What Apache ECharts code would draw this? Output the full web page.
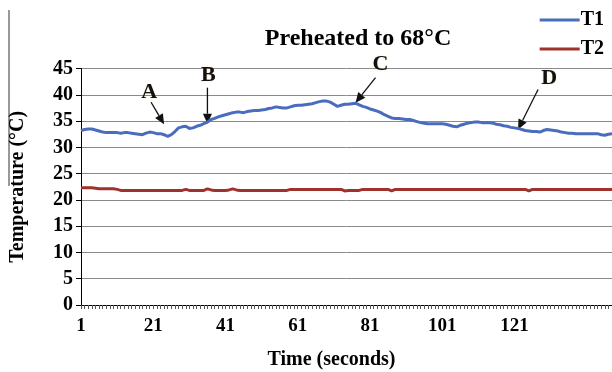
<!DOCTYPE html>
<html>
<head>
<meta charset="utf-8">
<script src="https://cdn.jsdelivr.net/npm/echarts@6/dist/echarts.min.js"></script>
<style>
  html, body { margin: 0; padding: 0; background: #fff; }
  #chart { width: 612px; height: 372px; }
</style>
</head>
<body>
<div id="chart"></div>
<script>
// time in seconds, 1..148
var times = [];
for (var i = 1; i <= 148; i++) times.push(String(i));

// T1
var t1 = [
  33.2, 33.4, 33.5, 33.5, 33.3, 33.1, 32.9, 32.8, 32.8, 32.8,
  32.8, 32.7, 32.8, 32.8, 32.7, 32.6, 32.5, 32.4, 32.7, 32.9,
  32.8, 32.6, 32.6, 32.4, 32.1, 32.4, 33.0, 33.7, 33.9, 34.0,
  33.6, 33.7, 34.0, 34.2, 34.5, 34.8, 35.3, 35.5, 35.8, 36.0,
  36.2, 36.4, 36.6, 36.7, 36.7, 36.6, 36.8, 36.9, 37.0, 37.0,
  37.1, 37.2, 37.4, 37.5, 37.7, 37.6, 37.5, 37.5, 37.7, 37.9,
  38.0, 38.0, 38.1, 38.2, 38.3, 38.5, 38.7, 38.8, 38.8, 38.6,
  38.2, 37.8, 38.0, 38.2, 38.2, 38.3, 38.4, 38.1, 37.8, 37.6,
  37.3, 37.1, 36.9, 36.6, 36.2, 35.9, 35.6, 35.5, 35.5, 35.4,
  35.3, 35.3, 35.1, 34.9, 34.7, 34.6, 34.5, 34.5, 34.5, 34.5,
  34.5, 34.4, 34.2, 34.0, 33.9, 34.2, 34.4, 34.6, 34.7, 34.8,
  34.8, 34.7, 34.7, 34.7, 34.6, 34.4, 34.3, 34.1, 34.0, 33.8,
  33.7, 33.6, 33.4, 33.2, 33.1, 33.0, 33.0, 32.9, 33.2, 33.4,
  33.3, 33.2, 33.1, 32.9, 32.8, 32.7, 32.7, 32.6, 32.6, 32.6,
  32.6, 32.6, 32.6, 32.6, 32.4, 32.3, 32.5, 32.6
];

// T2
var t2 = [
  22.3, 22.3, 22.3, 22.3, 22.2, 22.1, 22.1, 22.1, 22.1, 22.1,
  22.0, 21.8, 21.8, 21.8, 21.8, 21.8, 21.8, 21.8, 21.8, 21.8,
  21.8, 21.8, 21.8, 21.8, 21.8, 21.8, 21.8, 21.8, 21.8, 22.0,
  21.8, 21.8, 21.8, 21.8, 21.8, 22.1, 21.9, 21.8, 21.8, 21.8,
  21.8, 21.9, 22.1, 21.9, 21.8, 21.8, 21.8, 21.8, 21.8, 21.8,
  21.8, 21.8, 21.8, 21.8, 21.8, 21.8, 21.8, 21.8, 22.0, 22.0,
  22.0, 22.0, 22.0, 22.0, 22.0, 22.0, 22.0, 22.0, 22.0, 22.0,
  22.0, 22.0, 22.0, 21.7, 21.8, 21.8, 21.8, 21.8, 22.0, 22.0,
  22.0, 22.0, 22.0, 22.0, 22.0, 22.0, 21.7, 22.0, 22.0, 22.0,
  22.0, 22.0, 22.0, 22.0, 22.0, 22.0, 22.0, 22.0, 22.0, 22.0,
  22.0, 22.0, 22.0, 22.0, 22.0, 22.0, 22.0, 22.0, 22.0, 22.0,
  22.0, 22.0, 22.0, 22.0, 22.0, 22.0, 22.0, 22.0, 22.0, 22.0,
  22.0, 22.0, 22.0, 22.0, 21.7, 22.0, 22.0, 22.0, 22.0, 22.0,
  22.0, 22.0, 22.0, 22.0, 22.0, 22.0, 22.0, 22.0, 22.0, 22.0,
  22.0, 22.0, 22.0, 22.0, 22.0, 22.0, 22.0, 22.0
];

// arrow labels: tip at [time index, value], tail and text offsets in px
var notes = [
  { label: 'A', idx: 23, val: 34.4, tail: [-13, -22], text: [-15, -32] },
  { label: 'B', idx: 35, val: 34.5, tail: [0, -36], text: [1, -48] },
  { label: 'C', idx: 76, val: 38.5, tail: [20, -25], text: [25, -38] },
  { label: 'D', idx: 121, val: 33.4, tail: [20, -40], text: [31, -51] }
];

var serif = '"Liberation Serif", "DejaVu Serif", serif';

var chart = echarts.init(document.getElementById('chart'));

var option = {
  animation: false,
  backgroundColor: '#fff',
  title: {
    text: 'Preheated to 68°C',
    left: 353,
    top: 22,
    textAlign: 'center',
    textStyle: { fontFamily: serif, fontWeight: 'bold', fontSize: 24, color: '#000' }
  },
  legend: {
    orient: 'vertical',
    right: 3,
    top: 5,
    itemGap: 9,
    itemWidth: 40,
    itemHeight: 3,
    icon: 'rect',
    textStyle: { fontFamily: serif, fontWeight: 'bold', fontSize: 20, color: '#000', padding: [0, 0, 0, -4] },
    data: ['T1', 'T2']
  },
  grid: { left: 81, right: 0, top: 68.5, bottom: 67, outerBoundsMode: 'none' },
  xAxis: {
    type: 'category',
    data: times,
    boundaryGap: false,
    name: 'Time (seconds)',
    nameLocation: 'middle',
    nameGap: 45,
    nameMoveOverlap: false,
    nameTextStyle: { fontFamily: serif, fontWeight: 'bold', fontSize: 20, color: '#000', padding: [0, 30, 0, 0] },
    axisLine: { lineStyle: { color: '#000', width: 1 } },
    axisTick: { show: true, interval: 0, length: 4, lineStyle: { color: '#555' } },
    axisLabel: {
      interval: function (index) { return index % 20 === 0 && index <= 120; },
      margin: 12,
      fontFamily: serif, fontWeight: 'bold', fontSize: 19, color: '#000'
    },
    splitLine: { show: false }
  },
  yAxis: {
    type: 'value',
    min: 0,
    max: 45,
    interval: 5,
    name: 'Temperature (°C)',
    nameLocation: 'middle',
    nameGap: 53,
    nameMoveOverlap: false,
    nameTextStyle: { fontFamily: serif, fontWeight: 'bold', fontSize: 20, color: '#000' },
    axisLine: { show: true, lineStyle: { color: '#000', width: 1 } },
    axisTick: { show: true, length: 5, lineStyle: { color: '#000' } },
    axisLabel: { margin: 8, fontFamily: serif, fontWeight: 'bold', fontSize: 20, color: '#000' },
    splitLine: { lineStyle: { color: '#8a8a8a', width: 1 } }
  },
  series: [
    {
      name: 'T1',
      type: 'line',
      data: t1,
      showSymbol: false,
      color: '#4a6cbc',
      lineStyle: { width: 3, color: '#4a6cbc' }
    },
    {
      name: 'T2',
      type: 'line',
      data: t2,
      showSymbol: false,
      color: '#a0322e',
      lineStyle: { width: 3, color: '#a0322e' }
    }
  ]
};

chart.setOption(option);

// annotations drawn from data positions
var graphics = [
  { type: 'line', shape: { x1: 9, y1: 10, x2: 9, y2: 186 }, style: { stroke: '#333', lineWidth: 1 } }
];
notes.forEach(function (n) {
  var tip = chart.convertToPixel({ xAxisIndex: 0, yAxisIndex: 0 }, [n.idx, n.val]);
  var tx = tip[0] + n.tail[0], ty = tip[1] + n.tail[1];
  var dx = tip[0] - tx, dy = tip[1] - ty;
  var len = Math.sqrt(dx * dx + dy * dy);
  var ux = dx / len, uy = dy / len;
  var hl = 10, hw = 4.5;
  var bx = tip[0] - ux * hl, by = tip[1] - uy * hl;
  graphics.push({
    type: 'line',
    shape: { x1: tx, y1: ty, x2: bx, y2: by },
    style: { stroke: '#111', lineWidth: 1.3 }
  });
  graphics.push({
    type: 'polygon',
    shape: { points: [[tip[0], tip[1]], [bx - uy * hw, by + ux * hw], [bx + uy * hw, by - ux * hw]] },
    style: { fill: '#111' }
  });
  graphics.push({
    type: 'text',
    x: tip[0] + n.text[0],
    y: tip[1] + n.text[1],
    style: {
      text: n.label,
      fontFamily: serif,
      fontWeight: 'bold',
      fontSize: 22,
      fill: '#111',
      align: 'center',
      verticalAlign: 'middle',
      textShadowColor: 'rgba(200,150,40,0.6)',
      textShadowBlur: 1
    }
  });
});
chart.setOption({ graphic: graphics });
</script>
</body>
</html>
